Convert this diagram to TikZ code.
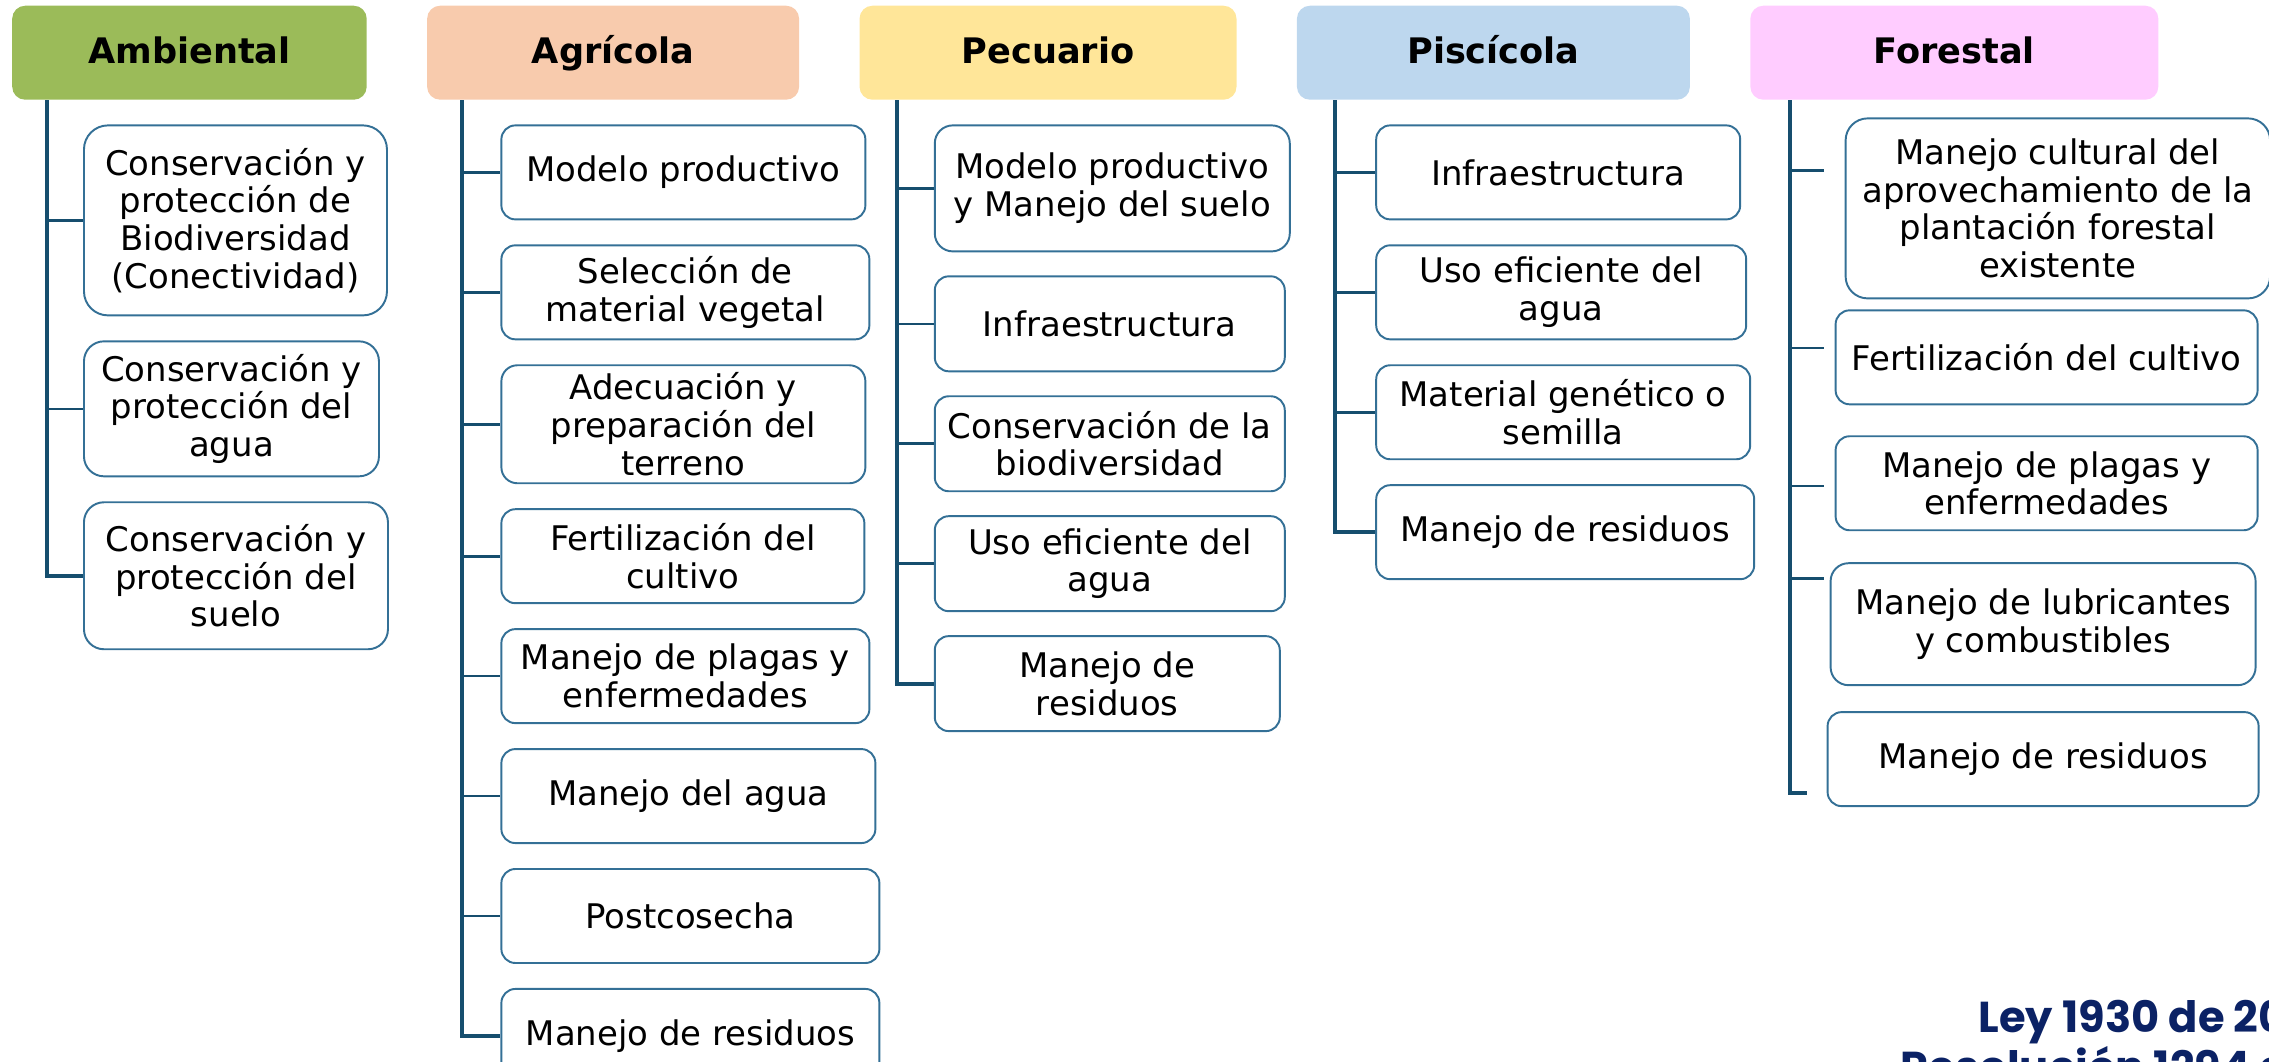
\documentclass[tikz,border=0pt]{standalone}
\usepackage{fontspec}
\setmainfont{DejaVu Sans}
\newfontfamily\leyfont{Poppins}
\usetikzlibrary{positioning}
\definecolor{linea}{RGB}{22,78,110}
\definecolor{borde}{RGB}{52,112,150}
\definecolor{verde}{HTML}{9BBB59}
\definecolor{salmon}{HTML}{F8CBAD}
\definecolor{amarillo}{HTML}{FFE699}
\definecolor{celeste}{HTML}{BDD7EE}
\definecolor{rosa}{HTML}{FFCCFF}
\definecolor{azul}{RGB}{11,34,101}

\begin{document}
\begin{tikzpicture}[
	head/.style={rounded corners=0.13cm, minimum height=0.94cm, inner sep=0pt, text height=1.6ex, text depth=0.45ex, font=\fontsize{10}{12}\selectfont\bfseries},
	item/.style={draw=borde, line width=0.55pt, rounded corners=0.14cm, fill=white, align=center, inner sep=0pt, minimum height=0.94cm, font=\fontsize{9.65}{10.7}\selectfont},
	trunk/.style={draw=linea, line width=1.1pt},
	branch/.style={draw=linea, line width=0.75pt},
	ley/.style={anchor=base west, inner sep=0pt, text=azul, font=\leyfont\bfseries\fontsize{12.3}{14}\selectfont},
	node distance=0.59cm
	]
	\clip (0,0) rectangle (22.69,-10.61);
	
	\node[head, fill=verde, minimum width=3.545cm, anchor=north west] (hA) at (0.115,-0.05) {Ambiental};
	\node[head, fill=salmon, minimum width=3.72cm] (hG) [right=of hA] {Agrícola};
	\node[head, fill=amarillo, minimum width=3.77cm] (hP) [right=of hG] {Pecuario};
	\node[head, fill=celeste, minimum width=3.93cm] (hS) [right=of hP] {Piscícola};
	\node[head, fill=rosa, minimum width=4.08cm] (hF) [right=of hS] {Forestal};
	
	\node[item, minimum width=3.03cm, minimum height=1.9cm, rounded corners=0.24cm, anchor=north west] (a1) at ([shift={(0.715,-0.24)}]hA.south west) {Conservación y\\protección de\\Biodiversidad\\(Conectividad)};
	\node[item, minimum width=2.95cm, minimum height=1.35cm, rounded corners=0.2cm] (a2) [below=0.24cm of a1.south west, anchor=north west] {Conservación y\\protección del\\agua};
	\node[item, minimum width=3.04cm, minimum height=1.47cm, rounded corners=0.2cm] (a3) [below=0.24cm of a2.south west, anchor=north west] {Conservación y\\protección del\\suelo};
	
	\node[item, minimum width=3.64cm, anchor=north west] (g1) at ([shift={(0.74,-0.24)}]hG.south west) {Modelo productivo};
	\node[item, minimum width=3.68cm] (g2) [below=0.24cm of g1.south west, anchor=north west] {Selección de\\material vegetal};
	\node[item, minimum width=3.64cm, minimum height=1.18cm, rounded corners=0.16cm] (g3) [below=0.24cm of g2.south west, anchor=north west] {Adecuación y\\preparación del\\terreno};
	\node[item, minimum width=3.63cm] (g4) [below=0.24cm of g3.south west, anchor=north west] {Fertilización del\\cultivo};
	\node[item, minimum width=3.68cm] (g5) [below=0.24cm of g4.south west, anchor=north west] {Manejo de plagas y\\enfermedades};
	\node[item, minimum width=3.74cm] (g6) [below=0.24cm of g5.south west, anchor=north west] {Manejo del agua};
	\node[item, minimum width=3.78cm] (g7) [below=0.24cm of g6.south west, anchor=north west] {Postcosecha};
	\node[item, minimum width=3.78cm] (g8) [below=0.24cm of g7.south west, anchor=north west] {Manejo de residuos};
	
	\node[item, minimum width=3.55cm, minimum height=1.26cm, rounded corners=0.18cm, anchor=north west] (p1) at ([shift={(0.75,-0.24)}]hP.south west) {Modelo productivo\\y Manejo del suelo};
	\node[item, minimum width=3.5cm, minimum height=0.95cm] (p2) [below=0.23cm of p1.south west, anchor=north west] {Infraestructura};
	\node[item, minimum width=3.5cm, minimum height=0.95cm] (p3) [below=0.23cm of p2.south west, anchor=north west] {Conservación de la\\biodiversidad};
	\node[item, minimum width=3.5cm, minimum height=0.95cm] (p4) [below=0.23cm of p3.south west, anchor=north west] {Uso eficiente del\\agua};
	\node[item, minimum width=3.45cm, minimum height=0.95cm] (p5) [below=0.23cm of p4.south west, anchor=north west] {Manejo de\\residuos};
	
	\node[item, minimum width=3.64cm, anchor=north west] (s1) at ([shift={(0.79,-0.24)}]hS.south west) {Infraestructura};
	\node[item, minimum width=3.7cm] (s2) [below=0.24cm of s1.south west, anchor=north west] {Uso eficiente del\\agua};
	\node[item, minimum width=3.74cm] (s3) [below=0.24cm of s2.south west, anchor=north west] {Material genético o\\semilla};
	\node[item, minimum width=3.78cm] (s4) [below=0.24cm of s3.south west, anchor=north west] {Manejo de residuos};
	
	\node[item, minimum width=4.245cm, minimum height=1.8cm, rounded corners=0.22cm, anchor=north west] (f1) at ([shift={(0.95,-0.17)}]hF.south west) {Manejo cultural del\\aprovechamiento de la\\plantación forestal\\existente};
	\node[item, minimum width=4.22cm] (f2) [below=0.1cm of f1.south west, anchor=north west, xshift=-0.1cm] {Fertilización del cultivo};
	\node[item, minimum width=4.22cm] (f3) [below=0.3cm of f2.south west, anchor=north west] {Manejo de plagas y\\enfermedades};
	\node[item, minimum width=4.25cm, minimum height=1.22cm, rounded corners=0.18cm] (f4) [below=0.31cm of f3.south west, anchor=north west, xshift=-0.05cm] {Manejo de lubricantes\\y combustibles};
	\node[item, minimum width=4.31cm] (f5) [below=0.25cm of f4.south west, anchor=north west, xshift=-0.03cm] {Manejo de residuos};
	
	\coordinate (tA) at ([xshift=0.355cm]hA.south west);
	\coordinate (tG) at ([xshift=0.36cm]hG.south west);
	\coordinate (tP) at ([xshift=0.38cm]hP.south west);
	\coordinate (tS) at ([xshift=0.39cm]hS.south west);
	\coordinate (tF) at ([xshift=0.4cm]hF.south west);
	\coordinate (e1) at (18.24,-1.705);
	\coordinate (e2) at (18.24,-3.48);
	\coordinate (e3) at (18.24,-4.86);
	\coordinate (e4) at (18.24,-5.785);
	\coordinate (e5) at (18.07,-7.93);
	
	\draw[branch] (tA |- a1.west) -- (a1.west);
	\draw[branch] (tA |- a2.west) -- (a2.west);
	\draw[trunk] (tA) |- (a3.west);
	
	\draw[branch] (tG |- g1.west) -- (g1.west);
	\draw[branch] (tG |- g2.west) -- (g2.west);
	\draw[branch] (tG |- g3.west) -- (g3.west);
	\draw[branch] (tG |- g4.west) -- (g4.west);
	\draw[branch] (tG |- g5.west) -- (g5.west);
	\draw[branch] (tG |- g6.west) -- (g6.west);
	\draw[branch] (tG |- g7.west) -- (g7.west);
	\draw[trunk] (tG) |- (g8.west);
	
	\draw[branch] (tP |- p1.west) -- (p1.west);
	\draw[branch] (tP |- p2.west) -- (p2.west);
	\draw[branch] (tP |- p3.west) -- (p3.west);
	\draw[branch] (tP |- p4.west) -- (p4.west);
	\draw[trunk] (tP) |- (p5.west);
	
	\draw[branch] (tS |- s1.west) -- (s1.west);
	\draw[branch] (tS |- s2.west) -- (s2.west);
	\draw[branch] (tS |- s3.west) -- (s3.west);
	\draw[trunk] (tS) |- (s4.west);
	
	\draw[branch] (tF |- e1) -- (e1);
	\draw[branch] (tF |- e2) -- (e2);
	\draw[branch] (tF |- e3) -- (e3);
	\draw[branch] (tF |- e4) -- (e4);
	\draw[trunk] (tF) |- (e5);
	
	\node[ley] (ley) at (19.78,-10.32) {Ley 1930 de 20};
	\node[ley] (res) at (19.0,-10.82) {Resolución 1294 d};
\end{tikzpicture}
\end{document}
